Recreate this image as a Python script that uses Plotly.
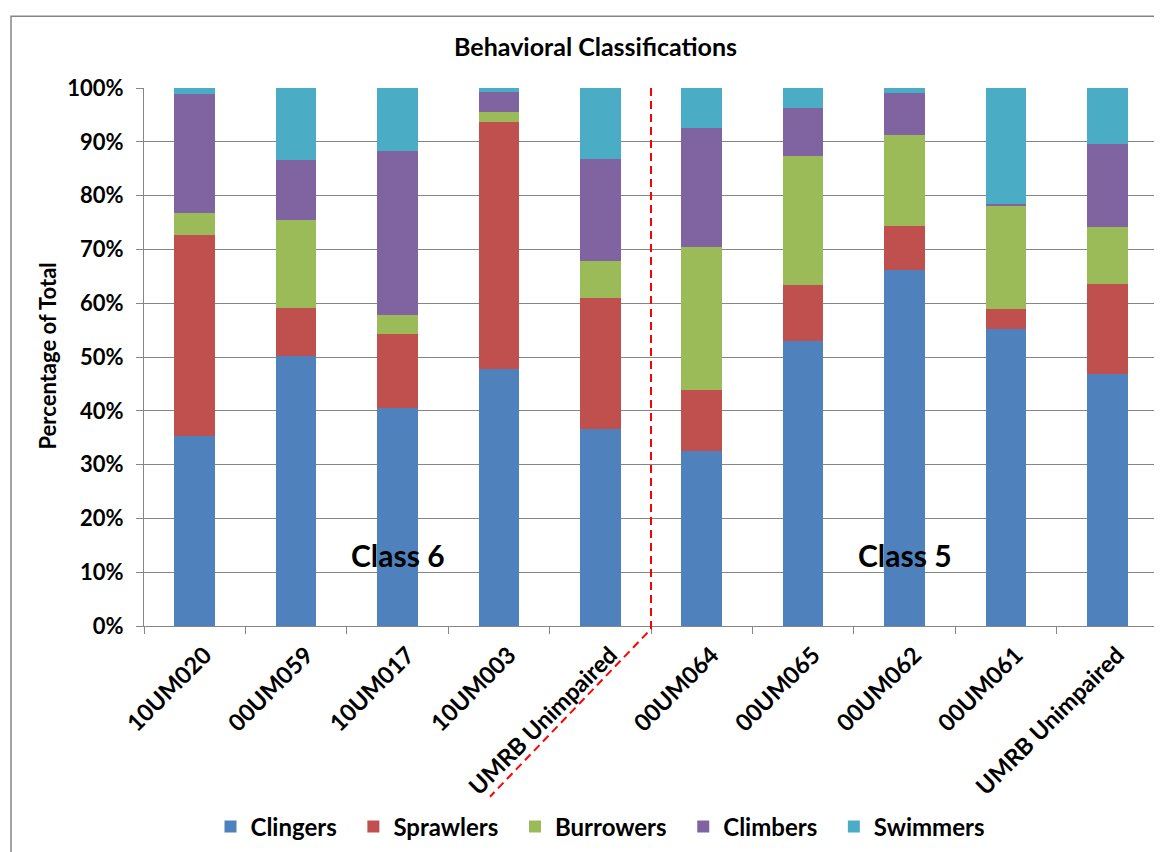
import plotly.graph_objects as go

sites = ["10UM020", "00UM059", "10UM017", "10UM003", "UMRB Unimpaired",
         "00UM064", "00UM065", "00UM062", "00UM061", "UMRB Unimpaired"]

clingers  = [35.3, 50.1, 40.6, 47.8, 36.6, 32.5, 52.9, 66.1, 55.2, 46.9]
sprawlers = [37.4,  9.1, 13.6, 45.8, 24.4, 11.3, 10.5,  8.2,  3.8, 16.6]
burrowers = [ 4.1, 16.3,  3.7,  2.0,  6.9, 26.6, 24.0, 16.9, 19.1, 10.7]
climbers  = [22.1, 11.1, 30.4,  3.7, 18.9, 22.2,  8.9,  7.9,  0.4, 15.4]
swimmers  = [ 1.1, 13.4, 11.7,  0.7, 13.2,  7.4,  3.7,  0.9, 21.5, 10.4]

series_names = ["Clingers", "Sprawlers", "Burrowers", "Climbers", "Swimmers"]
series_vals = [clingers, sprawlers, burrowers, climbers, swimmers]
colors = ["#4F81BD", "#C0504D", "#9BBB59", "#8064A2", "#4BACC6"]

y_ticks = [0, 10, 20, 30, 40, 50, 60, 70, 80, 90, 100]

FONT = "Lato"
xs = list(range(len(sites)))
NB = "\u00a0"

fig = go.Figure()
for i, (name, vals, col) in enumerate(zip(series_names, series_vals, colors)):
    label = name + (NB * 2 if i < len(series_names) - 1 else "")
    fig.add_trace(go.Bar(x=xs, y=vals, name=label, marker=dict(color=col, line=dict(width=0))))

# page offset introduced by the default body margin
OFF = 8
W, H = 1162, 852
# desired plot area in page pixels
PL, PR, PT, PB = 144, 1158, 88, 627
ml = PL - OFF
mt = PT - OFF
pw = PR - PL
ph = PB - PT
mr = W - ml - pw
mb = H - mt - ph

def px_x(p):
    return (p - PL) / pw

def px_y(p):
    return (PB - p) / ph

boundary = 4.5
bx = (boundary + 0.5) / len(sites)
label_shift = 0.1

fig.update_layout(
    width=W, height=H,
    margin=dict(l=ml, r=mr, t=mt, b=mb),
    barmode="stack",
    bargap=0.6,
    plot_bgcolor="white",
    paper_bgcolor="white",
    font=dict(family=FONT, color="black"),
    showlegend=True,
    legend=dict(orientation="h", x=px_x(600), xanchor="center", y=px_y(827), yanchor="middle",
                font=dict(size=24, family=FONT, weight="bold"), itemwidth=30,
                traceorder="normal"),
    xaxis=dict(range=[-0.5, len(sites) - 0.5], tickmode="array",
               tickvals=[x + label_shift for x in xs],
               ticktext=["<b>%s</b>" % s for s in sites], tickangle=-45,
               tickfont=dict(size=23.5, family=FONT), ticks="", showgrid=False,
               ticklabelstandoff=5,
               showline=True, linecolor="#868686", linewidth=1,
               minor=dict(tickmode="linear", tick0=-0.5, dtick=1, ticks="outside",
                          ticklen=7, tickcolor="#868686", showgrid=False)),
    yaxis=dict(range=[0, 100], tickmode="array", tickvals=y_ticks,
               ticktext=["<b>%d%%</b>" % v for v in y_ticks],
               tickfont=dict(size=22, family=FONT), ticks="outside", ticklen=7,
               ticklabelstandoff=8,
               tickcolor="#868686", showgrid=True, gridcolor="#868686", gridwidth=1,
               showline=True, linecolor="#868686", linewidth=1, zeroline=False),
    shapes=[
        dict(type="rect", xref="paper", yref="paper",
             x0=px_x(11), x1=px_x(1180), y0=px_y(880), y1=px_y(16),
             line=dict(color="#868686", width=1.5), fillcolor="rgba(0,0,0,0)", layer="below"),
        dict(type="path", xref="paper", yref="paper",
             path="M %f,%f L %f,%f L %f,%f" % (bx, 1.0, bx, px_y(630), px_x(490), px_y(798)),
             line=dict(color="#FF0000", width=2, dash="8px,5px")),
    ],
    annotations=[
        dict(x=px_x(595), y=px_y(46), xref="paper", yref="paper",
             xanchor="center", yanchor="middle",
             text="<b>Behavioral Classifications</b>", showarrow=False,
             font=dict(size=25, family=FONT, color="black")),
        dict(x=px_x(48), y=px_y(357), xref="paper", yref="paper",
             xanchor="center", yanchor="middle",
             text="<b>Percentage of Total</b>", showarrow=False, textangle=-90,
             font=dict(size=22, family=FONT, color="black")),
        dict(x=2, y=px_y(556), xref="x", yref="paper", xanchor="center", yanchor="middle",
             text="<b>Class 6</b>", showarrow=False,
             font=dict(size=30, family=FONT, color="black")),
        dict(x=7, y=px_y(556), xref="x", yref="paper", xanchor="center", yanchor="middle",
             text="<b>Class 5</b>", showarrow=False,
             font=dict(size=30, family=FONT, color="black")),
    ],
)

fig.write_html("out.html")
